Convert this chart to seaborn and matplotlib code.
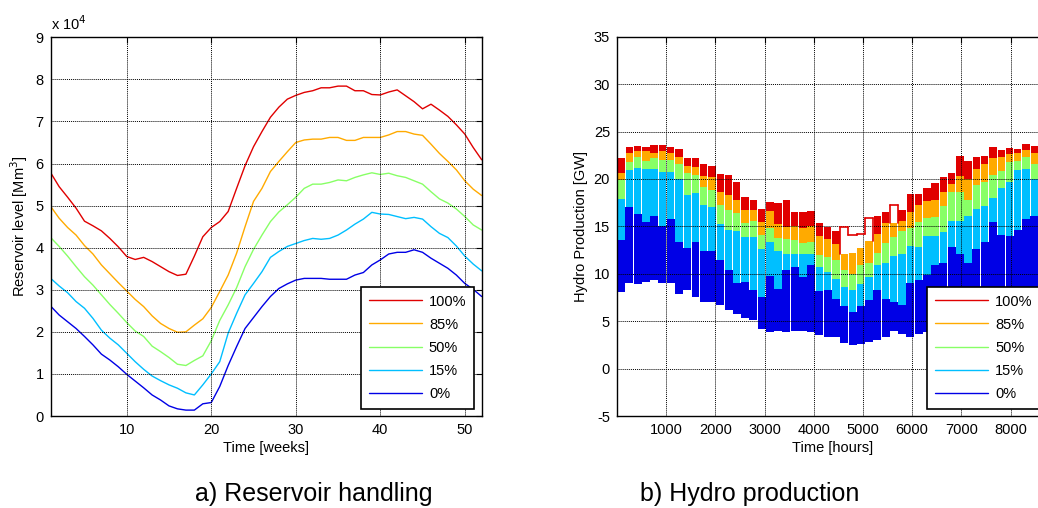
import numpy as np
import pandas as pd
import matplotlib
matplotlib.use("Agg")
import matplotlib.pyplot as plt
import seaborn as sns
from matplotlib.lines import Line2D

# ---------------- data ----------------
levels = ["100%", "85%", "50%", "15%", "0%"]
colors = ["#E00000", "#FFAA00", "#88FF66", "#00BFFF", "#0000E6"]

weeks = np.arange(1, 53)

# reservoir level, units of 1e4 Mm3
res_100 = [5.78, 5.45, 5.20, 4.94, 4.63, 4.52, 4.40, 4.22, 4.02, 3.79, 3.72, 3.77, 3.67,
           3.55, 3.43, 3.34, 3.37, 3.80, 4.26, 4.48, 4.62, 4.86, 5.41, 5.95, 6.40, 6.76,
           7.10, 7.34, 7.53, 7.62, 7.69, 7.73, 7.80, 7.80, 7.84, 7.84, 7.73, 7.73, 7.64,
           7.63, 7.70, 7.75, 7.61, 7.47, 7.30, 7.41, 7.27, 7.12, 6.92, 6.70, 6.38, 6.09]
res_85 = [4.98, 4.70, 4.48, 4.30, 4.05, 3.85, 3.59, 3.38, 3.17, 2.97, 2.77, 2.60, 2.38,
          2.20, 2.08, 1.99, 2.00, 2.16, 2.31, 2.58, 2.96, 3.35, 3.87, 4.50, 5.10, 5.41,
          5.81, 6.05, 6.28, 6.50, 6.56, 6.58, 6.58, 6.62, 6.62, 6.55, 6.55, 6.62, 6.62,
          6.62, 6.68, 6.76, 6.76, 6.70, 6.67, 6.46, 6.24, 6.05, 5.85, 5.59, 5.39, 5.24]
res_50 = [4.24, 4.03, 3.80, 3.55, 3.31, 3.11, 2.88, 2.65, 2.44, 2.22, 2.02, 1.89, 1.66,
          1.53, 1.39, 1.23, 1.20, 1.32, 1.43, 1.79, 2.27, 2.64, 3.05, 3.55, 3.96, 4.30,
          4.62, 4.85, 5.02, 5.20, 5.41, 5.51, 5.51, 5.55, 5.61, 5.59, 5.67, 5.73, 5.78,
          5.74, 5.77, 5.71, 5.67, 5.59, 5.51, 5.33, 5.16, 5.06, 4.92, 4.74, 4.54, 4.42]
res_15 = [3.27, 3.09, 2.93, 2.72, 2.56, 2.32, 2.04, 1.85, 1.69, 1.49, 1.29, 1.11, 0.95,
          0.84, 0.74, 0.66, 0.55, 0.50, 0.74, 1.00, 1.29, 1.97, 2.44, 2.88, 3.15, 3.43,
          3.77, 3.91, 4.03, 4.10, 4.17, 4.22, 4.20, 4.22, 4.30, 4.42, 4.56, 4.68, 4.84,
          4.80, 4.79, 4.74, 4.69, 4.72, 4.68, 4.50, 4.34, 4.24, 4.04, 3.80, 3.61, 3.45]
res_0 = [2.61, 2.40, 2.24, 2.08, 1.89, 1.69, 1.47, 1.33, 1.17, 0.99, 0.83, 0.67, 0.50,
         0.38, 0.24, 0.17, 0.14, 0.14, 0.29, 0.32, 0.70, 1.20, 1.65, 2.08, 2.34, 2.60,
         2.84, 3.03, 3.14, 3.23, 3.27, 3.27, 3.27, 3.25, 3.25, 3.25, 3.35, 3.41, 3.59,
         3.71, 3.85, 3.89, 3.89, 3.95, 3.89, 3.75, 3.63, 3.51, 3.35, 3.15, 3.01, 2.84]

# hydro production per week [GW]: weekday peak of each series, trough of the 0% series
hours_per_week = 168
prod_100 = [22.2, 23.4, 23.5, 23.4, 23.6, 23.6, 23.4, 23.2, 22.2, 22.2, 21.6, 21.4, 20.5,
            20.4, 19.7, 18.1, 17.8, 16.8, 17.6, 17.5, 17.8, 16.5, 16.5, 16.6, 15.4, 14.9,
            14.5, 14.9, 14.1, 14.2, 15.9, 16.1, 16.5, 17.2, 16.7, 18.4, 18.4, 19.0, 19.6,
            20.2, 20.6, 22.4, 21.9, 22.3, 22.4, 23.4, 23.0, 23.3, 23.2, 23.7, 23.5, 23.3]
prod_85 = [20.6, 22.7, 22.9, 22.9, 22.7, 22.9, 22.7, 22.3, 21.4, 21.3, 20.3, 20.2, 18.6,
           18.3, 17.8, 16.7, 16.7, 15.5, 16.6, 15.3, 14.9, 15.0, 14.8, 15.0, 14.0, 13.7,
           13.1, 12.1, 12.2, 12.7, 13.5, 14.2, 15.4, 15.4, 15.6, 16.5, 17.3, 17.7, 17.8,
           18.6, 19.5, 20.3, 20.0, 21.1, 21.6, 22.2, 22.3, 22.6, 22.7, 23.0, 22.7, 22.6]
prod_50 = [19.9, 21.8, 22.3, 21.9, 22.2, 22.0, 22.0, 21.6, 20.6, 20.4, 19.2, 18.8, 17.2,
           16.7, 16.4, 15.4, 15.6, 14.1, 14.8, 13.8, 13.7, 13.6, 13.2, 13.3, 12.0, 11.8,
           11.4, 10.4, 10.0, 10.9, 11.1, 12.2, 13.2, 13.9, 14.5, 14.8, 15.5, 15.9, 16.0,
           17.1, 18.6, 18.6, 17.8, 19.4, 19.7, 20.4, 20.8, 21.8, 21.9, 22.3, 21.6, 21.8]
prod_15 = [17.9, 20.9, 21.2, 21.0, 21.0, 20.7, 20.7, 20.0, 18.3, 18.5, 17.2, 17.0, 15.3,
           14.6, 14.5, 13.9, 13.9, 12.6, 13.4, 12.4, 12.1, 12.1, 12.1, 12.1, 10.7, 10.2,
           9.4, 8.6, 8.3, 8.9, 9.7, 10.9, 11.1, 11.9, 12.1, 12.9, 12.8, 14.0, 14.0,
           14.4, 15.6, 15.6, 16.1, 16.8, 17.1, 18.0, 19.0, 19.7, 20.9, 21.1, 20.0, 20.3]
prod_0 = [13.6, 17.0, 16.3, 15.5, 16.1, 15.0, 15.8, 13.4, 12.7, 13.4, 12.4, 12.4, 11.4,
          10.4, 9.0, 9.1, 8.3, 7.6, 9.8, 8.4, 10.4, 10.7, 9.7, 10.9, 8.2, 8.3,
          7.3, 6.6, 6.0, 6.6, 7.2, 8.3, 7.3, 7.0, 6.7, 9.0, 9.3, 9.9, 10.9,
          11.1, 12.8, 12.1, 11.1, 12.6, 13.4, 15.5, 14.1, 14.0, 14.6, 15.8, 16.1, 16.0]
prod_low = [8.1, 9.0, 8.9, 9.1, 9.3, 9.0, 9.0, 7.9, 8.3, 7.6, 7.0, 7.0, 6.7,
            6.2, 5.8, 5.3, 5.1, 4.2, 3.9, 4.0, 3.9, 4.0, 4.0, 3.9, 3.5, 3.3,
            3.3, 2.7, 2.5, 2.6, 2.8, 3.0, 3.3, 4.0, 3.7, 3.3, 3.7, 3.9, 4.0,
            4.2, 4.5, 5.0, 5.3, 5.6, 5.9, 6.2, 6.5, 6.8, 7.1, 7.4, 7.7, 8.0]
# weeks (0-based) where the 100% series runs flat (no daily cycling)
flat_100_weeks = [27, 28, 29, 30, 33]

# ---------------- style ----------------
sns.set_style("white")
plt.rcParams["font.family"] = ["Liberation Sans", "DejaVu Sans"]
plt.rcParams["axes.edgecolor"] = "black"
plt.rcParams["axes.linewidth"] = 1.0
plt.rcParams["axes.unicode_minus"] = False
plt.rcParams["text.color"] = "black"
plt.rcParams["axes.labelcolor"] = "black"
plt.rcParams["xtick.color"] = "black"
plt.rcParams["ytick.color"] = "black"

fig = plt.figure(figsize=(10.38, 5.08), dpi=100)
ax1 = fig.add_axes([50.7 / 1038, 1 - 416 / 508, 431 / 1038, 378.7 / 508])
ax2 = fig.add_axes([617 / 1038, 1 - 416 / 508, 430.9 / 1038, 379.3 / 508])

FS = 10.5


def matlab_axes(ax):
    ax.grid(True, color="black", linestyle=(0, (1, 1)), linewidth=0.7)
    ax.set_axisbelow(False)
    ax.tick_params(direction="in", length=4, width=0.8, top=True, right=True,
                   labelsize=FS, colors="black", pad=5)
    for s in ax.spines.values():
        s.set_visible(True)
        s.set_color("black")
        s.set_linewidth(1.0)


# ---------------- left panel ----------------
df = pd.DataFrame({
    "week": np.tile(weeks, 5),
    "level": np.repeat(levels, 52),
    "value": np.concatenate([res_100, res_85, res_50, res_15, res_0]),
})
sns.lineplot(data=df, x="week", y="value", hue="level", hue_order=levels,
             palette=dict(zip(levels, colors)), linewidth=1.0, ax=ax1, legend=False)
ax1.set_xlim(1, 52)
ax1.set_ylim(0, 9)
ax1.set_xticks([10, 20, 30, 40, 50])
ax1.set_yticks(range(0, 10))
matlab_axes(ax1)
ax1.set_xlabel("Time [weeks]", fontsize=FS, labelpad=3)
ax1.set_ylabel("Reservoir level [Mm$^3$]", fontsize=FS, labelpad=4)
ax1.text(0.0, 1.012, "x 10$^{4}$", transform=ax1.transAxes, fontsize=FS,
         ha="left", va="bottom")

# ---------------- right panel ----------------
week_start = np.arange(52) * hours_per_week
prod_series = [prod_100, prod_85, prod_50, prod_15, prod_0]
for i, (vals, col) in enumerate(zip(prod_series, colors)):
    vals = np.asarray(vals)
    low = np.asarray(prod_low, dtype=float)
    mask = np.ones(52, bool)
    if i == 0:
        mask[flat_100_weeks] = False
    bar_off, bar_w = (3, 162) if i == 4 else (8, 150)
    ax2.bar(week_start[mask] + bar_off, vals[mask] - low[mask], bottom=low[mask],
            width=bar_w, align="edge", color=col, linewidth=0)

# flat weeks of the 100% series drawn as a line
for k in flat_100_weeks:
    v = prod_100[k]
    x0, x1 = week_start[k], week_start[k] + hours_per_week
    ax2.plot([x0, x1], [v, v], color=colors[0], lw=1.2, zorder=3)
    if k - 1 not in flat_100_weeks:
        ax2.plot([x0, x0], [prod_85[k], v], color=colors[0], lw=1.2, zorder=3)
    else:
        ax2.plot([x0, x0], [prod_100[k - 1], v], color=colors[0], lw=1.2, zorder=3)
    if k + 1 not in flat_100_weeks:
        ax2.plot([x1, x1], [prod_85[k], v], color=colors[0], lw=1.2, zorder=3)

ax2.set_xlim(0, 8760)
ax2.set_ylim(-5, 35)
ax2.set_xticks(range(1000, 9000, 1000))
ax2.set_yticks(range(-5, 40, 5))
matlab_axes(ax2)
ax2.set_xlabel("Time [hours]", fontsize=FS, labelpad=3)
ax2.set_ylabel("Hydro Production [GW]", fontsize=FS, labelpad=4)

# ---------------- legends ----------------
handles = [Line2D([0], [0], color=c, lw=1.0) for c in colors]
for ax in (ax1, ax2):
    leg = ax.legend(handles, levels, loc="lower right", fontsize=FS,
                    handlelength=3.6, handletextpad=0.5, labelspacing=0.62,
                    borderpad=0.55, borderaxespad=0.5, fancybox=False,
                    framealpha=1, edgecolor="black")
    leg.get_frame().set_linewidth(1.2)
    leg.set_zorder(10)

# ---------------- captions ----------------
fig.text(314 / 1038, 1 - 494 / 508, "a) Reservoir handling", fontsize=18,
         ha="center", va="center")
fig.text(750 / 1038, 1 - 494 / 508, "b) Hydro production", fontsize=18,
         ha="center", va="center")

fig.savefig("out.png", dpi=100)
